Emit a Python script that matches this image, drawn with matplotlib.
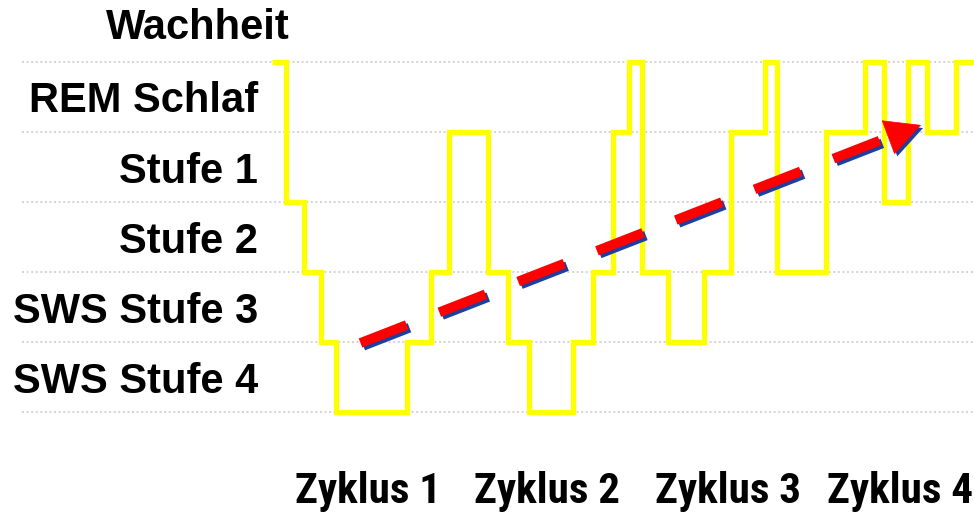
import matplotlib
matplotlib.use("Agg")
import matplotlib.pyplot as plt
import matplotlib.patheffects as pe
from matplotlib import font_manager

# sleep stages, bottom (deepest) to top
STAGES = ['SWS Stufe 4', 'SWS Stufe 3', 'Stufe 2', 'Stufe 1', 'REM Schlaf', 'Wachheit']

# hypnogram: time edges and stage (index into STAGES) per segment
T_EDGES = [272, 286, 304, 321, 336, 407, 431, 449, 488, 508, 529, 573, 593, 613,
           629, 642, 668, 704, 731, 765, 777, 826, 865, 884, 908, 927, 956, 974]
STAGE_IDX = [5, 3, 2, 1, 0, 1, 2, 4, 2, 1, 0, 1, 2, 4,
             5, 2, 1, 2, 4, 5, 2, 4, 5, 3, 5, 4, 5]

# cycles
CYCLES = ['Zyklus 1', 'Zyklus 2', 'Zyklus 3', 'Zyklus 4']
CYCLE_X = [368, 547, 728, 900]

# trend arrow (time, stage level)
TREND_T = [360.5, 889]
TREND_Y = [0.986, 3.929]
TREND_TIP = (921, 4.10)


def narrow_font():
    # look for a condensed bold face, else None
    for fam in ['Liberation Sans Narrow', 'Arial Narrow', 'Roboto Condensed',
                'DejaVu Sans Condensed', 'Open Sans Condensed']:
        try:
            f = font_manager.findfont(font_manager.FontProperties(family=fam, weight='bold'),
                                      fallback_to_default=False)
            return dict(family=fam)
        except ValueError:
            pass
    for fam in ['DejaVu Sans', 'Roboto', 'Open Sans', 'Noto Sans']:
        fp = font_manager.FontProperties(family=fam, weight='bold', stretch='condensed')
        f = font_manager.findfont(fp)
        if 'ondensed' in f or 'arrow' in f:
            return dict(family=fam, stretch='condensed')
    return None


fig = plt.figure(figsize=(9.74, 5.12), dpi=100)
ax = fig.add_axes([0, 0, 1, 1])
ax.set_xlim(0, 974)
ax.set_ylim(-1.4286, 5.8857)
ax.axis('off')

# dotted grid lines at each stage
ax.hlines(range(len(STAGES)), 22, 974, colors='#c8c8c8', lw=1.1,
          linestyles=(0, (1.3, 1.7)), zorder=1)

# stage labels
label_x = [258, 258, 258, 258, 258, 290]
label_off = [0.27, 0.27, 0.27, 0.27, 0.29, 0.33]
for i, name in enumerate(STAGES):
    ax.text(label_x[i], i + label_off[i], name, ha='right', va='baseline',
            fontsize=30, fontweight='bold', family=['Liberation Sans', 'DejaVu Sans'])

# hypnogram
ax.stairs(STAGE_IDX, T_EDGES, baseline=None, color='#ffff00', lw=3.8, zorder=2)

# dashed trend arrow with blue shadow
shadow = [pe.SimpleLineShadow(offset=(2, -2), shadow_color='#1c3fa0', alpha=1.0), pe.Normal()]
ax.plot(TREND_T, TREND_Y, color='#ff0000', lw=7, solid_capstyle='butt',
        dash_capstyle='butt', linestyle=(0, (5.1, 3.6)), zorder=3, path_effects=shadow)
ann = ax.annotate('', xy=TREND_TIP, xytext=(TREND_T[-1], TREND_Y[-1]),
                  arrowprops=dict(arrowstyle='-|>,head_length=24.5,head_width=12.6',
                                  mutation_scale=1, color='#ff0000', lw=0.5,
                                  shrinkA=0, shrinkB=0), zorder=4)
ann.arrow_patch.set_path_effects([pe.SimplePatchShadow(offset=(2, -2), shadow_rgbFace='#1c3fa0', alpha=1.0),
                                  pe.Normal()])

# cycle labels
nf = narrow_font()
if nf is not None:
    cyc_kw = dict(fontsize=31, **nf)
else:
    cyc_kw = dict(fontsize=24, family='Liberation Sans')
for x, name in zip(CYCLE_X, CYCLES):
    ax.text(x, -1.3, name, ha='center', va='baseline', fontweight='bold', **cyc_kw)

fig.savefig('out.png', dpi=100, facecolor='white')
